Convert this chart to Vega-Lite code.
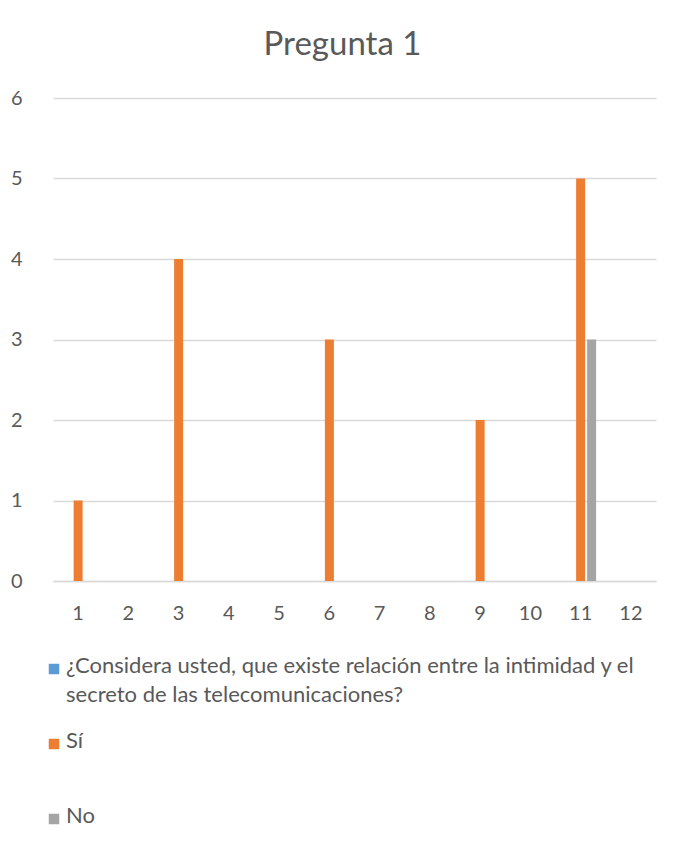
{
  "$schema": "https://vega.github.io/schema/vega-lite/v6.json",
  "width": 603,
  "height": 483,
  "autosize": {"type": "none"},
  "padding": {"left": 53, "top": 98, "right": 28, "bottom": 269},
  "background": "white",
  "title": {"text": "Pregunta 1", "fontSize": 33, "font": "Lato", "fontWeight": "normal", "color": "#595959", "anchor": "middle", "offset": 26, "dx": -12},
  "data": {"values": [
    {"cat": "1", "serie": "Sí", "v": 1},
    {"cat": "3", "serie": "Sí", "v": 4},
    {"cat": "6", "serie": "Sí", "v": 3},
    {"cat": "9", "serie": "Sí", "v": 2},
    {"cat": "11", "serie": "Sí", "v": 5},
    {"cat": "11", "serie": "No", "v": 3}
  ]},
  "mark": {"type": "bar"},
  "encoding": {
    "x": {"field": "cat", "type": "nominal", "sort": null,
      "scale": {"domain": ["1","2","3","4","5","6","7","8","9","10","11","12"], "paddingInner": 0.384, "paddingOuter": 0.192},
      "axis": {"title": null, "labelAngle": 0, "labelFont": "Lato", "labelFontSize": 20, "labelColor": "#595959", "ticks": false, "domainColor": "#d9d9d9", "domainWidth": 1.5, "labelPadding": 22}},
    "xOffset": {"field": "serie", "type": "nominal",
      "scale": {"domain": ["¿Considera usted, que existe relación entre la intimidad y el secreto de las telecomunicaciones?", "Sí", "No"], "paddingInner": 0.1818, "paddingOuter": 0}},
    "y": {"field": "v", "type": "quantitative",
      "scale": {"domain": [0, 6]},
      "axis": {"title": null, "values": [0,1,2,3,4,5,6], "labelFont": "Lato", "labelFontSize": 20, "labelColor": "#595959", "ticks": false, "domain": false, "gridColor": "#d9d9d9", "gridWidth": 1.5, "labelPadding": 31}},
    "color": {"field": "serie", "type": "nominal",
      "scale": {"domain": ["¿Considera usted, que existe relación entre la intimidad y el secreto de las telecomunicaciones?", "Sí", "No"], "range": ["#5B9BD5", "#ED7D31", "#A5A5A5"]},
      "legend": {"title": null, "orient": "none", "legendX": -10, "legendY": 560, "direction": "vertical",
        "symbolType": "square", "symbolSize": 110, "symbolStrokeWidth": 0, "symbolOpacity": 1,
        "labelFont": "Lato", "labelFontSize": 22, "labelColor": "#595959", "labelLimit": 700, "labelOffset": 1,
        "labelBaseline": "top", "rowPadding": 24, "padding": 0,
        "labelExpr": "datum.label[0] == '¿' ? ['¿Considera usted, que existe relación entre la intimidad y el', 'secreto de las telecomunicaciones?'] : [datum.label, ' ']",
        "encode": {"labels": {"update": {"dy": {"value": -13}, "lineHeight": {"value": 29}}}}}}
  },
  "config": {"view": {"stroke": null}}
}
